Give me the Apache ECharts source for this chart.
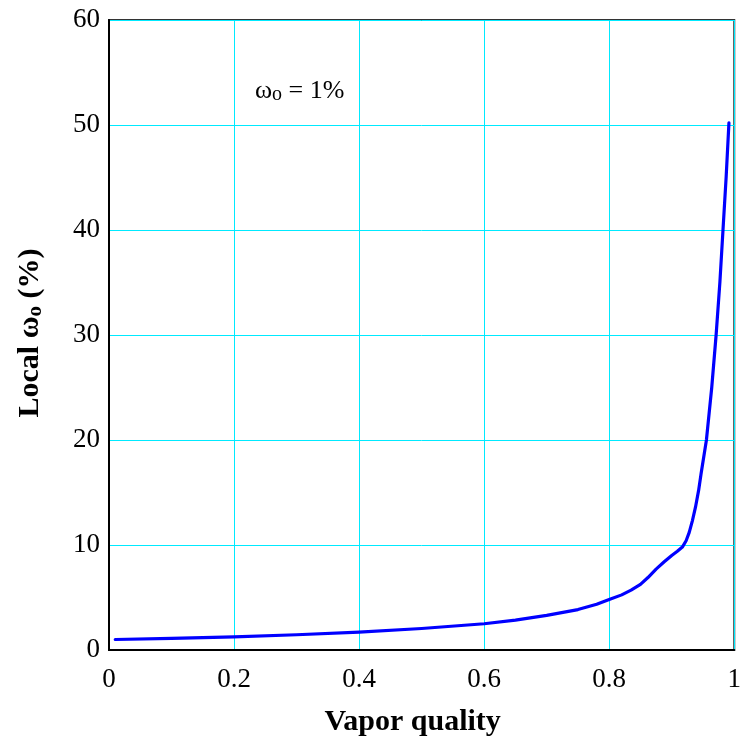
<!DOCTYPE html>
<html>
<head>
<meta charset="utf-8">
<script src="https://cdn.jsdelivr.net/npm/echarts@6/dist/echarts.min.js"></script>
<style>html,body{margin:0;padding:0;background:#fff;}#c{width:744px;height:745px;}</style>
</head>
<body>
<div id="c"></div>
<script>
const quality = [0.01, 0.1, 0.2, 0.3, 0.4, 0.5, 0.6, 0.65, 0.7, 0.75, 0.78, 0.8, 0.82, 0.835, 0.85, 0.862, 0.875, 0.888, 0.9, 0.909, 0.917, 0.923, 0.928, 0.933, 0.938, 0.943, 0.947, 0.951, 0.9555, 0.964, 0.971, 0.977, 0.982, 0.987, 0.9915];
const localOmega = [1.0, 1.1, 1.25, 1.45, 1.7, 2.05, 2.5, 2.85, 3.3, 3.85, 4.35, 4.8, 5.25, 5.7, 6.25, 6.9, 7.7, 8.4, 9.0, 9.4, 9.8, 10.4, 11.2, 12.3, 13.6, 15.2, 16.8, 18.3, 20, 25, 30, 35, 40, 45, 50.2];
const xTicks = {min: 0, max: 1, step: 0.2};
const yTicks = {min: 0, max: 60, step: 10};

const font = 'Liberation Serif, Times New Roman, serif';
const chart = echarts.init(document.getElementById('c'));
chart.setOption({
  backgroundColor: '#fff',
  animation: false,
  grid: {left: 109, right: 7, top: 20, bottom: 95, show: true, borderColor: '#333', borderWidth: 2, backgroundColor: 'transparent'},
  xAxis: {
    type: 'value', min: xTicks.min, max: xTicks.max, interval: xTicks.step,
    axisLine: {show: true, lineStyle: {color: '#000', width: 2}},
    axisTick: {show: false},
    axisLabel: {fontFamily: font, fontSize: 27, color: '#000', margin: 16},
    splitLine: {show: true, lineStyle: {color: '#00eaff', width: 1}},
    name: 'Vapor quality', nameLocation: 'middle', nameGap: 57,
    nameTextStyle: {fontFamily: font, fontSize: 30, fontWeight: 'bold', color: '#000', padding: [0, 18, 0, 0]}
  },
  yAxis: {
    type: 'value', min: yTicks.min, max: yTicks.max, interval: yTicks.step,
    axisLine: {show: true, lineStyle: {color: '#000', width: 2}},
    axisTick: {show: false},
    axisLabel: {fontFamily: font, fontSize: 27, color: '#000', margin: 9},
    splitLine: {show: true, lineStyle: {color: '#00eaff', width: 1}},
    name: '{a|Local ω}{s|o}{a| (%)}', nameLocation: 'middle', nameGap: 63, nameRotate: 90,
    nameTextStyle: {
      fontFamily: font, fontSize: 30, fontWeight: 'bold', color: '#000', padding: [0, 0, 0, 4],
      rich: {
        a: {fontFamily: font, fontSize: 30, fontWeight: 'bold', color: '#000'},
        s: {fontFamily: font, fontSize: 21, fontWeight: 'bold', color: '#000', padding: [10, 0, 0, 0]}
      }
    }
  },
  graphic: [{
    type: 'text', left: 255, top: 78,
    style: {
      text: '{a|ω}{s|o}{a| = 1%}',
      rich: {
        a: {fontFamily: font, fontSize: 26, fill: '#000'},
        s: {fontFamily: font, fontSize: 20, fill: '#000', padding: [7, 0, 0, 0]}
      }
    }
  }],
  series: [{
    type: 'line',
    data: quality.map((q, i) => [q, localOmega[i]]),
    showSymbol: false,
    smooth: false,
    lineStyle: {color: '#0000ff', width: 3.2, join: 'round', cap: 'round'},
    itemStyle: {color: '#0000ff'}
  }]
});
</script>
</body>
</html>
